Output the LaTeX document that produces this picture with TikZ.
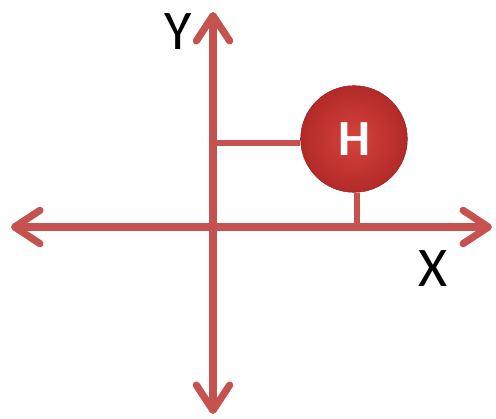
\documentclass[tikz,border=0pt]{standalone}
\usepackage{fontspec}
\setmainfont{Carlito}
\usetikzlibrary{arrows.meta}
\definecolor{axisred}{RGB}{198,82,80}
\definecolor{ballred}{RGB}{214,66,60}
\definecolor{balldark}{RGB}{178,42,40}
\tikzset{
  axe/.style={draw=axisred, line width=5.4pt,
    arrows={Straight Barb[length=19pt, width=25pt, round]-Straight Barb[length=19pt, width=25pt, round]}},
  trait/.style={draw=axisred, line width=5.2pt},
  atome/.style={circle, minimum size=80pt, inner sep=0pt,
    inner color=ballred, outer color=balldark,
    draw=balldark!85!black, line width=0.4pt,
    text=white, font=\bfseries\fontsize{38}{38}\selectfont},
  lettre/.style={font=\fontsize{42}{42}\selectfont}
}
\begin{document}
\begin{tikzpicture}[x=0.75pt, y=-0.75pt]
        \useasboundingbox (0,0) rectangle (496,418);

        % Axes X et Y
        \coordinate (xg) at (11,227);
        \coordinate (xd) at (492,227);
        \coordinate (yh) at (213,12);
        \coordinate (yb) at (213,414);
        \draw[axe] (xg) -- (xd);
        \draw[axe] (yb) -- (yh);

        % Atome H
        \node[atome] (h) at (354,139) {H};

        % Projections sur les axes
        \coordinate (py) at (213,143);
        \coordinate (px) at (357,229);
        \draw[trait] (py) -- (py -| h.west);
        \draw[trait] (h.south -| px) -- (px);

        % Noms des axes
        \node[lettre] (ny) at (178,32) {Y};
        \node[lettre] (nx) at (433,269) {X};

    \end{tikzpicture}
\end{document}
